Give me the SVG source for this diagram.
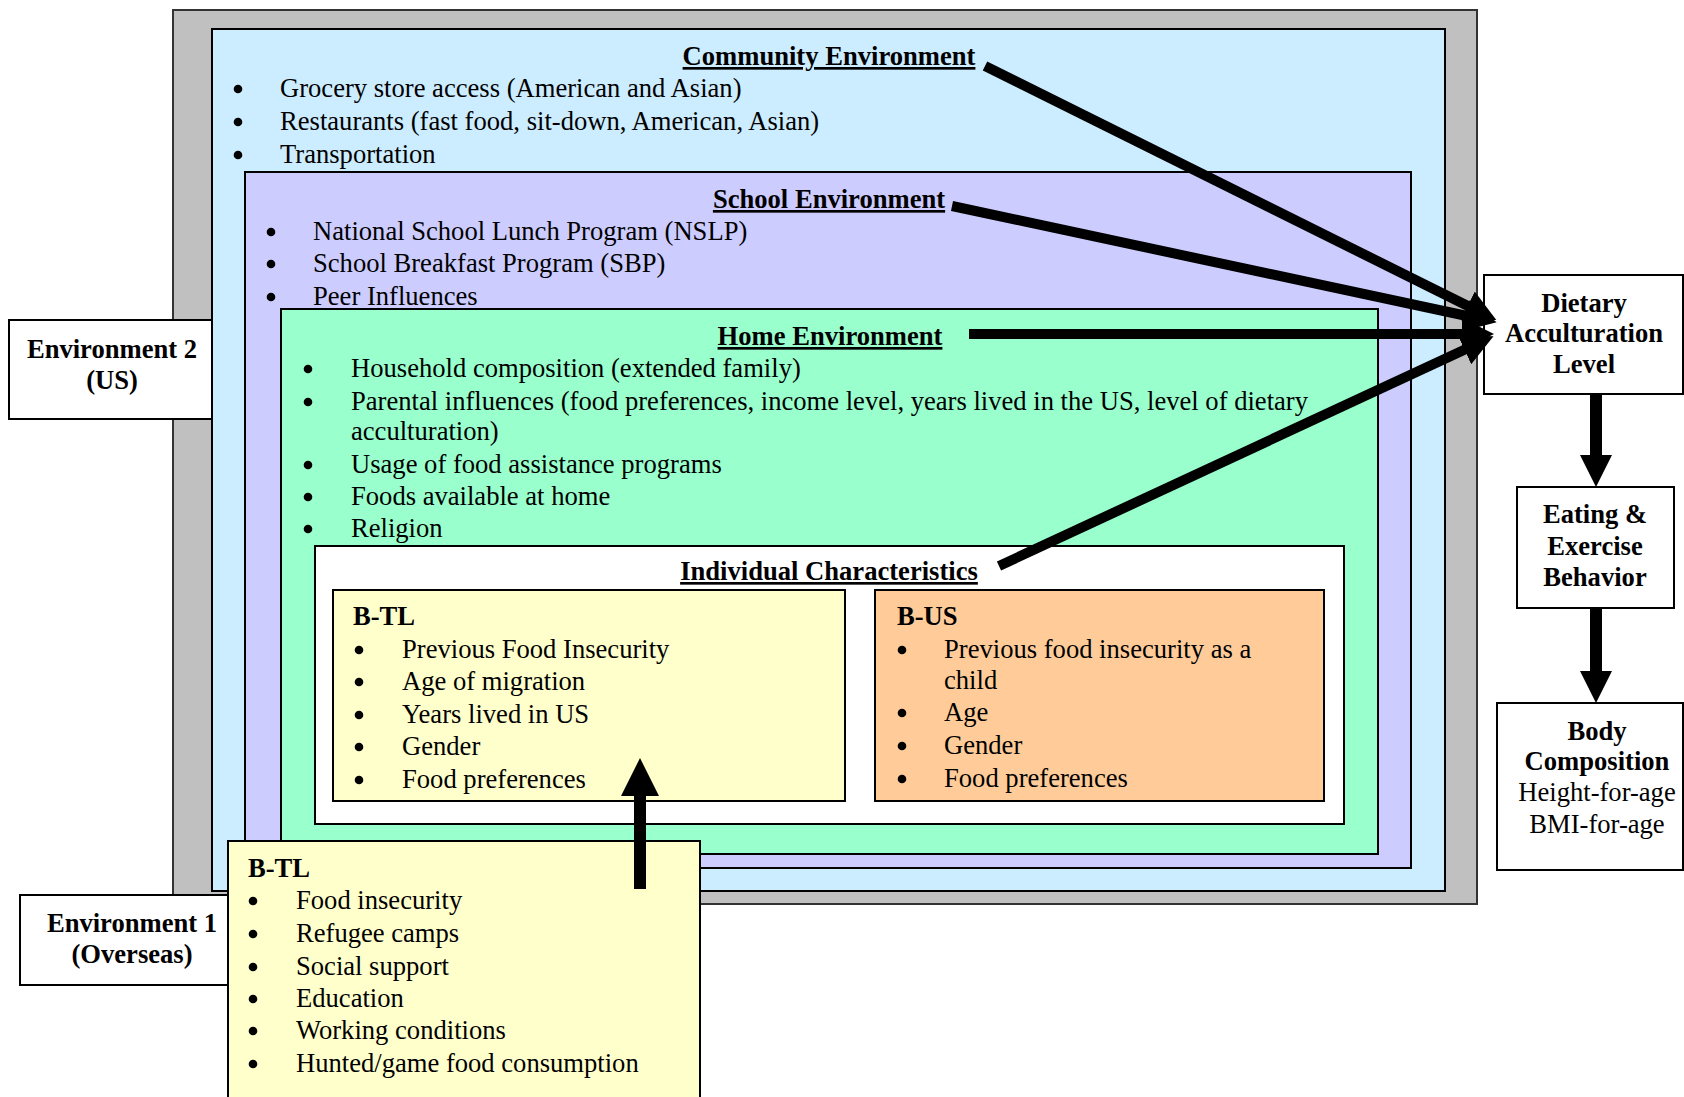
<svg xmlns="http://www.w3.org/2000/svg" width="1684" height="1097" viewBox="0 0 1684 1097">
<style>
.bx{stroke:#000;stroke-width:2}
.t{font-family:"Liberation Serif","Times New Roman",serif;font-size:26.6px;fill:#000}
.b{font-weight:bold}
.h{font-weight:bold;text-decoration:underline;text-anchor:middle}
.c{text-anchor:middle}
.dot{fill:#000}
.ar{stroke:#000;stroke-width:10;fill:none}
.av{stroke:#000;stroke-width:12;fill:none}
</style>
<defs>
<marker id="head" viewBox="0 0 32 32" markerWidth="32" markerHeight="32" refX="16" refY="16" orient="auto" markerUnits="userSpaceOnUse">
<path d="M0,0 L32,16 L0,32 Z" fill="#000"/>
</marker>
<marker id="headBig" viewBox="0 0 38 38" markerWidth="38" markerHeight="38" refX="18" refY="19" orient="auto" markerUnits="userSpaceOnUse">
<path d="M0,0 L38,19 L0,38 Z" fill="#000"/>
</marker>
</defs>

<g id="us-environment">
<rect x="173" y="10" width="1304" height="894" fill="#C0C0C0" stroke="#333" stroke-width="2"/>
</g>

<g id="environment-2">
<rect class="bx" x="9" y="320" width="203" height="99" fill="#FFFFFF"/>
<text class="t b c" x="112" y="358">Environment 2</text>
<text class="t b c" x="112" y="389">(US)</text>
</g>

<g id="community-environment">
<rect class="bx" x="212" y="29" width="1233" height="862" fill="#CCECFF"/>
<text class="t h" x="829" y="65">Community Environment</text>
<circle class="dot" cx="238" cy="89" r="4.3"/><text class="t" x="280" y="97">Grocery store access (American and Asian)</text>
<circle class="dot" cx="238" cy="122" r="4.3"/><text class="t" x="280" y="130">Restaurants (fast food, sit-down, American, Asian)</text>
<circle class="dot" cx="238" cy="155" r="4.3"/><text class="t" x="280" y="163">Transportation</text>
</g>

<g id="school-environment">
<rect class="bx" x="245" y="172" width="1166" height="696" fill="#CCCCFF"/>
<text class="t h" x="829" y="208">School Environment</text>
<circle class="dot" cx="271" cy="232" r="4.3"/><text class="t" x="313" y="240">National School Lunch Program (NSLP)</text>
<circle class="dot" cx="271" cy="264" r="4.3"/><text class="t" x="313" y="272">School Breakfast Program (SBP)</text>
<circle class="dot" cx="271" cy="297" r="4.3"/><text class="t" x="313" y="305">Peer Influences</text>
</g>

<g id="home-environment">
<rect class="bx" x="281" y="309" width="1097" height="545" fill="#99FFCC"/>
<text class="t h" x="830" y="345">Home Environment</text>
<circle class="dot" cx="308" cy="369" r="4.3"/><text class="t" x="351" y="377">Household composition (extended family)</text>
<circle class="dot" cx="308" cy="402" r="4.3"/><text class="t" x="351" y="410">Parental influences (food preferences, income level, years lived in the US, level of dietary</text>
<text class="t" x="351" y="440">acculturation)</text>
<circle class="dot" cx="308" cy="465" r="4.3"/><text class="t" x="351" y="473">Usage of food assistance programs</text>
<circle class="dot" cx="308" cy="497" r="4.3"/><text class="t" x="351" y="505">Foods available at home</text>
<circle class="dot" cx="308" cy="529" r="4.3"/><text class="t" x="351" y="537">Religion</text>
</g>

<g id="individual-characteristics">
<rect class="bx" x="315" y="546" width="1029" height="278" fill="#FFFFFF"/>
<text class="t h" x="829" y="580">Individual Characteristics</text>
</g>

<g id="b-tl-individual">
<rect class="bx" x="333" y="590" width="512" height="211" fill="#FFFFCC"/>
<text class="t b" x="353" y="625">B-TL</text>
<circle class="dot" cx="359" cy="650" r="4.3"/><text class="t" x="402" y="658">Previous Food Insecurity</text>
<circle class="dot" cx="359" cy="682" r="4.3"/><text class="t" x="402" y="690">Age of migration</text>
<circle class="dot" cx="359" cy="715" r="4.3"/><text class="t" x="402" y="723">Years lived in US</text>
<circle class="dot" cx="359" cy="747" r="4.3"/><text class="t" x="402" y="755">Gender</text>
<circle class="dot" cx="359" cy="780" r="4.3"/><text class="t" x="402" y="788">Food preferences</text>
</g>

<g id="b-us-individual">
<rect class="bx" x="875" y="590" width="449" height="211" fill="#FFCC99"/>
<text class="t b" x="897" y="625">B-US</text>
<circle class="dot" cx="902" cy="650" r="4.3"/><text class="t" x="944" y="658">Previous food insecurity as a</text>
<text class="t" x="944" y="689">child</text>
<circle class="dot" cx="902" cy="713" r="4.3"/><text class="t" x="944" y="721">Age</text>
<circle class="dot" cx="902" cy="746" r="4.3"/><text class="t" x="944" y="754">Gender</text>
<circle class="dot" cx="902" cy="779" r="4.3"/><text class="t" x="944" y="787">Food preferences</text>
</g>

<g id="environment-1">
<rect class="bx" x="20" y="895" width="230" height="90" fill="#FFFFFF"/>
<text class="t b c" x="132" y="932">Environment 1</text>
<text class="t b c" x="132" y="963">(Overseas)</text>
</g>

<g id="b-tl-overseas">
<rect class="bx" x="228" y="841" width="472" height="300" fill="#FFFFCC"/>
<text class="t b" x="248" y="877">B-TL</text>
<circle class="dot" cx="253" cy="901" r="4.3"/><text class="t" x="296" y="909">Food insecurity</text>
<circle class="dot" cx="253" cy="934" r="4.3"/><text class="t" x="296" y="942">Refugee camps</text>
<circle class="dot" cx="253" cy="967" r="4.3"/><text class="t" x="296" y="975">Social support</text>
<circle class="dot" cx="253" cy="999" r="4.3"/><text class="t" x="296" y="1007">Education</text>
<circle class="dot" cx="253" cy="1031" r="4.3"/><text class="t" x="296" y="1039">Working conditions</text>
<circle class="dot" cx="253" cy="1064" r="4.3"/><text class="t" x="296" y="1072">Hunted/game food consumption</text>
</g>

<g id="dietary-acculturation">
<rect class="bx" x="1484" y="275" width="199" height="119" fill="#FFFFFF"/>
<text class="t b c" x="1584" y="312">Dietary</text>
<text class="t b c" x="1584" y="342">Acculturation</text>
<text class="t b c" x="1584" y="373">Level</text>
</g>

<g id="eating-exercise">
<rect class="bx" x="1517" y="487" width="157" height="121" fill="#FFFFFF"/>
<text class="t b c" x="1595" y="523">Eating &amp;</text>
<text class="t b c" x="1595" y="555">Exercise</text>
<text class="t b c" x="1595" y="586">Behavior</text>
</g>

<g id="body-composition">
<rect class="bx" x="1497" y="703" width="186" height="167" fill="#FFFFFF"/>
<text class="t b c" x="1597" y="740">Body</text>
<text class="t b c" x="1597" y="770">Composition</text>
<text class="t c" x="1597" y="801">Height-for-age</text>
<text class="t c" x="1597" y="833">BMI-for-age</text>
</g>

<g id="connectors">
<line class="ar" x1="985" y1="66" x2="1482" y2="313" marker-end="url(#head)"/>
<line class="ar" x1="952" y1="206" x2="1481" y2="319" marker-end="url(#head)"/>
<line class="ar" x1="969" y1="334" x2="1478" y2="334" marker-end="url(#head)"/>
<line class="ar" x1="999" y1="566" x2="1479" y2="343" marker-end="url(#head)"/>
<line class="av" x1="1596" y1="394" x2="1596" y2="471" marker-end="url(#head)"/>
<line class="av" x1="1596" y1="608" x2="1596" y2="687" marker-end="url(#head)"/>
<line class="av" x1="640" y1="889" x2="640" y2="778" marker-end="url(#headBig)"/>
</g>
</svg>
